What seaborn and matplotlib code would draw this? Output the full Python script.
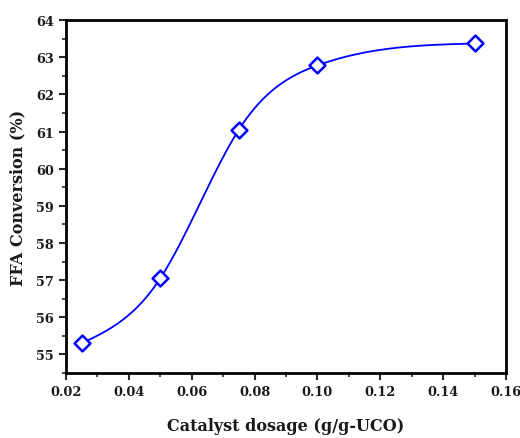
import numpy as np
import pandas as pd
import matplotlib
matplotlib.use("Agg")
import matplotlib.pyplot as plt
import seaborn as sns
from matplotlib.ticker import MultipleLocator

dosage = [0.025, 0.05, 0.075, 0.10, 0.15]
conversion = [55.3, 57.05, 61.05, 62.78, 63.37]
x_ticks = [0.02, 0.04, 0.06, 0.08, 0.10, 0.12, 0.14, 0.16]
y_ticks = [55, 56, 57, 58, 59, 60, 61, 62, 63, 64]


def natural_spline(x, y, xs):
    x = np.asarray(x, float); y = np.asarray(y, float)
    n = len(x)
    h = np.diff(x)
    A = np.zeros((n, n)); b = np.zeros(n)
    A[0, 0] = 1; A[-1, -1] = 1
    for i in range(1, n - 1):
        A[i, i - 1] = h[i - 1]
        A[i, i] = 2 * (h[i - 1] + h[i])
        A[i, i + 1] = h[i]
        b[i] = 3 * ((y[i + 1] - y[i]) / h[i] - (y[i] - y[i - 1]) / h[i - 1])
    c = np.linalg.solve(A, b)
    out = np.empty_like(xs)
    for k, xv in enumerate(xs):
        i = min(np.searchsorted(x, xv, side="right") - 1, n - 2)
        i = max(i, 0)
        dx = xv - x[i]
        bi = (y[i + 1] - y[i]) / h[i] - h[i] * (2 * c[i] + c[i + 1]) / 3
        di = (c[i + 1] - c[i]) / (3 * h[i])
        out[k] = y[i] + bi * dx + c[i] * dx ** 2 + di * dx ** 3
    return out


xs = np.linspace(dosage[0], dosage[-1], 400)
curve = pd.DataFrame({"x": xs, "y": natural_spline(dosage, conversion, xs)})
pts = pd.DataFrame({"x": dosage, "y": conversion})

sns.set_style("white")
plt.rcParams["font.family"] = ["DejaVu Serif"]
plt.rcParams["font.weight"] = "bold"

txt = "#1a1a1a"
fig = plt.figure(figsize=(5.2, 4.39), dpi=100)
ax = fig.add_axes([0.127, 0.148, 0.846, 0.804])

sns.lineplot(data=curve, x="x", y="y", ax=ax, color="#0000ff", lw=1.3, sort=False)
sns.scatterplot(data=pts, x="x", y="y", ax=ax, marker="D", s=65,
                facecolor="white", edgecolor="#0000ff", linewidth=1.8, zorder=3)

ax.set_xlim(0.02, 0.16)
ax.set_ylim(54.5, 64)
ax.set_xticks(x_ticks)
ax.set_xticklabels([f"{v:.2f}" for v in x_ticks])
ax.set_yticks(y_ticks)
ax.set_yticklabels([str(v) for v in y_ticks])
ax.xaxis.set_minor_locator(MultipleLocator(0.01))
ax.yaxis.set_minor_locator(MultipleLocator(0.5))
ax.tick_params(which="major", direction="out", length=5, width=1.5, labelsize=9.3,
               labelcolor=txt, bottom=True, left=True, top=False, right=False)
ax.tick_params(which="minor", direction="out", length=3, width=1.2,
               bottom=True, left=True, top=False, right=False)
for lbl in ax.get_xticklabels() + ax.get_yticklabels():
    lbl.set_fontweight("bold")
for s in ax.spines.values():
    s.set_visible(True)
    s.set_linewidth(2)
    s.set_color("black")

ax.set_xlabel("Catalyst dosage (g/g-UCO)", fontsize=11.5, fontweight="bold",
              labelpad=14, color=txt)
ax.set_ylabel("FFA Conversion (%)", fontsize=11.5, fontweight="bold",
              labelpad=7, color=txt)

fig.savefig("out.png", dpi=100)
